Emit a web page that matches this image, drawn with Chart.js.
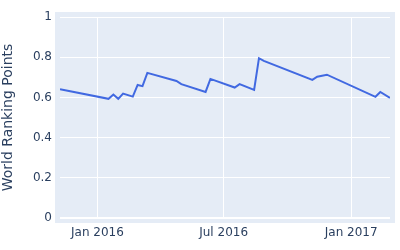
<!DOCTYPE html>
<html>
<head>
<meta charset="utf-8">
<script src="https://cdn.jsdelivr.net/npm/chart.js@4/dist/chart.umd.min.js"></script>
<style>
html,body{margin:0;padding:0;background:#fff;}
#wrap{width:400px;height:250px;position:relative;}
</style>
</head>
<body>
<div id="wrap"><canvas id="c" width="400" height="250"></canvas></div>
<script>
const dates = ["2015-11-08","2016-01-17","2016-01-24","2016-01-31","2016-02-07","2016-02-21","2016-02-28","2016-03-06","2016-03-13","2016-04-24","2016-05-01","2016-06-05","2016-06-12","2016-07-17","2016-07-24","2016-08-14","2016-08-21","2016-08-28","2016-11-06","2016-11-13","2016-11-27","2017-02-05","2017-02-12","2017-02-26"];
const points = [0.641,0.593,0.614,0.593,0.619,0.604,0.662,0.656,0.722,0.682,0.666,0.627,0.692,0.649,0.666,0.637,0.795,0.782,0.687,0.703,0.713,0.603,0.627,0.598];
const xTickDates = ["2016-01-01","2016-07-01","2017-01-01"];
const xTickLabels = ["Jan 2016","Jul 2016","Jan 2017"];
const yTicks = [0,0.2,0.4,0.6,0.8,1];
const yTitle = "World Ranking Points";

const toMs = s => Date.parse(s + "T00:00:00Z");
const data = dates.map((d,i)=>({x:toMs(d), y:points[i]}));
const xTickVals = xTickDates.map(toMs);
const FONT = "'DejaVu Sans', sans-serif";
const TXT = "#2a3f5f";

const bgPlugin = {
  id:'bg',
  beforeDraw(chart){
    const a = chart.chartArea, c = chart.ctx;
    c.save();
    c.fillStyle = "#E5ECF6";
    c.fillRect(a.left-5, a.top-5, a.right-a.left+10, a.bottom-a.top+10);
    c.restore();
  }
};

new Chart(document.getElementById('c'), {
  type:'line',
  data:{datasets:[{data, borderColor:'#4169E1', borderWidth:2, pointRadius:0, tension:0, fill:false}]},
  options:{
    responsive:false, animation:false,
    layout:{padding:{top:17,right:10,left:0,bottom:0}},
    plugins:{legend:{display:false}, tooltip:{enabled:false}},
    scales:{
      x:{
        type:'linear',
        min:data[0].x, max:data[data.length-1].x,
        afterBuildTicks(s){ s.ticks = xTickVals.map(v=>({value:v})); },
        afterFit(s){ s.height = 32; },
        grid:{color:'#fff', lineWidth:1, drawTicks:false},
        border:{display:false},
        ticks:{padding:8, color:TXT, font:{family:FONT,size:12}, maxRotation:0,
          callback:(v)=>{const i=xTickVals.indexOf(v); return i>=0?xTickLabels[i]:'';}}
      },
      y:{
        min:0, max:1,
        afterBuildTicks(s){ s.ticks = yTicks.map(v=>({value:v})); },
        afterFit(s){ s.width = 60; },
        grid:{color:'#fff', lineWidth:c=>c.tick && c.tick.value===0?2:1, drawTicks:false},
        border:{display:false},
        ticks:{padding:8, color:TXT, font:{family:FONT,size:12}, callback:v=>String(v)},
        title:{display:true, text:yTitle, color:TXT, font:{family:FONT,size:14}, padding:{top:0,bottom:0}}
      }
    }
  },
  plugins:[bgPlugin]
});
</script>
</body>
</html>
